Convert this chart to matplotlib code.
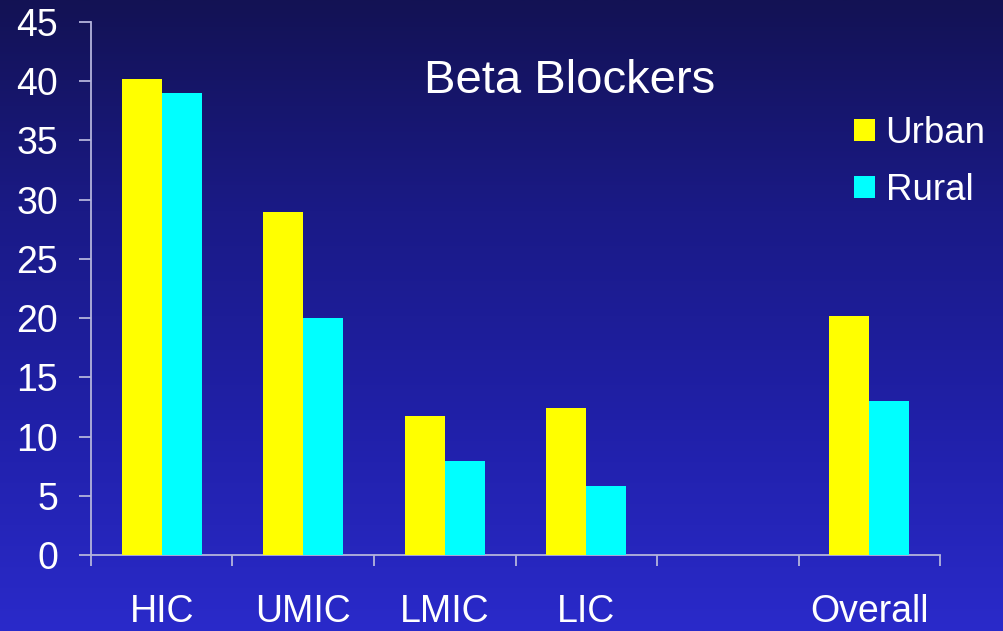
import numpy as np
import matplotlib

matplotlib.use("Agg")
import matplotlib.pyplot as plt  # noqa: E402
from matplotlib.colors import LinearSegmentedColormap  # noqa: E402
from matplotlib.patches import Patch  # noqa: E402

plt.rcParams["font.family"] = ["Liberation Sans", "DejaVu Sans"]

categories = ["HIC", "UMIC", "LMIC", "LIC", "", "Overall"]
urban = [40.2, 29.0, 11.7, 12.4, np.nan, 20.2]
rural = [39.0, 20.0, 7.9, 5.8, np.nan, 13.0]
y_ticks = [0, 5, 10, 15, 20, 25, 30, 35, 40, 45]

URBAN_C = "#ffff00"
RURAL_C = "#00ffff"
AXIS_C = "#b4b4dc"
TEXT_C = "white"

fig = plt.figure(figsize=(10.04, 6.31), dpi=100)

# background gradient, dark navy at top to bright blue at bottom
bg = fig.add_axes([0, 0, 1, 1], zorder=-10)
grad_cmap = LinearSegmentedColormap.from_list(
    "bg", ["#2a2aca", "#2020a8", "#1a1a86", "#131254"]
)
bg.imshow(np.linspace(0, 1, 256).reshape(-1, 1), aspect="auto", cmap=grad_cmap,
          origin="lower", extent=[0, 1, 0, 1])
bg.axis("off")

ax = fig.add_axes([0.0906, 0.1204, 0.8457, 0.8447])
ax.patch.set_alpha(0)

x = np.arange(len(categories))
w = 0.283
ax.bar(x - w / 2, urban, width=w, color=URBAN_C, label="Urban", zorder=3)
ax.bar(x + w / 2, rural, width=w, color=RURAL_C, label="Rural", zorder=3)

ax.set_xlim(-0.5, len(categories) - 0.5)
ax.set_ylim(0, 45)
ax.set_yticks(y_ticks)
ax.set_yticklabels([str(v) for v in y_ticks])

# boundary ticks without labels, category names on minor ticks
ax.set_xticks(np.arange(len(categories) + 1) - 0.5)
ax.set_xticklabels([])
ax.set_xticks(x, minor=True)
ax.set_xticklabels(categories, minor=True)

for side in ("top", "right"):
    ax.spines[side].set_visible(False)
for side in ("left", "bottom"):
    ax.spines[side].set_color(AXIS_C)
    ax.spines[side].set_linewidth(1.3)

ax.tick_params(axis="y", which="major", length=8.5, width=1.3, color=AXIS_C,
               labelcolor=TEXT_C, labelsize=27, pad=15)
ax.tick_params(axis="x", which="major", length=8, width=1.3, color=AXIS_C)
ax.tick_params(axis="x", which="minor", length=0, labelcolor=TEXT_C,
               labelsize=27, pad=28)

ax.text(0.564, 0.867, "Beta Blockers", transform=ax.transAxes, ha="center",
        va="baseline", color=TEXT_C, fontsize=34)

handles = [Patch(facecolor=URBAN_C, label="Urban"),
           Patch(facecolor=RURAL_C, label="Rural")]
ax.legend(handles=handles, loc="upper left", bbox_to_anchor=(0.899, 0.823),
          frameon=False, fontsize=26.5, labelcolor=TEXT_C, handlelength=0.55,
          handleheight=0.55, handletextpad=0.3, labelspacing=0.58,
          borderaxespad=0, borderpad=0)

fig.savefig("out.png", dpi=100)
plt.close(fig)
